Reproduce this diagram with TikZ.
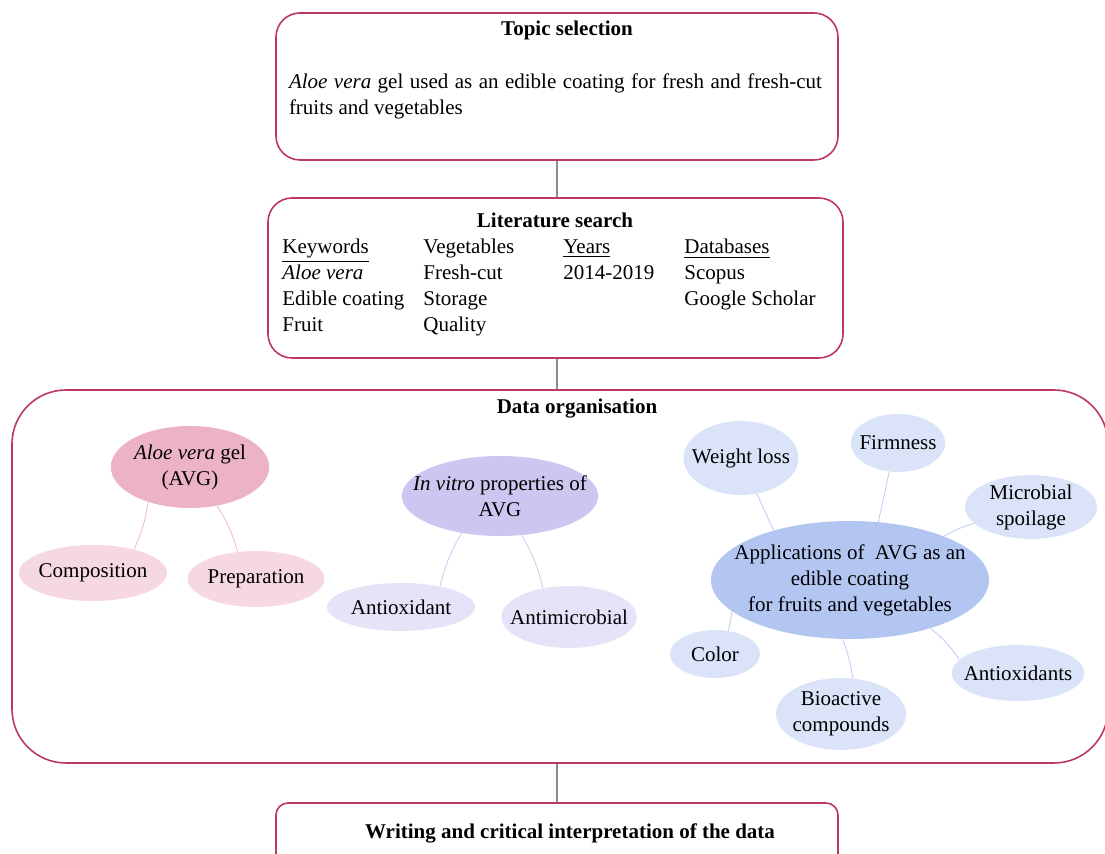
\documentclass[tikz,border=0pt]{standalone}
\usepackage{fontspec}
\setmainfont{Liberation Serif}
\usepackage{tikz}
\usetikzlibrary{shapes.geometric}
\definecolor{frame}{HTML}{BC3862}
\definecolor{stem}{HTML}{8C8C8C}
\definecolor{rosedark}{HTML}{ECB3C5}
\definecolor{roselight}{HTML}{F6D8E2}
\definecolor{roseline}{HTML}{EDB9C9}
\definecolor{lilacdark}{HTML}{CEC6F0}
\definecolor{lilaclight}{HTML}{E6E3F8}
\definecolor{lilacline}{HTML}{CFC8F0}
\definecolor{skydark}{HTML}{B3C6F2}
\definecolor{skylight}{HTML}{DAE3F8}
\definecolor{skyline}{HTML}{BCCBF1}

\begin{document}
\begin{tikzpicture}[x=0.5pt, y=-0.5pt,
  font=\fontsize{10.5}{13}\selectfont,
  stagebox/.style={draw=frame, line width=0.8pt, rounded corners=12pt},
  title/.style={font=\fontsize{10.5}{13}\selectfont\bfseries},
  bubble/.style={ellipse, inner sep=0pt, align=center},
  link/.style={line width=0.4pt}
]
  \useasboundingbox (0,0) rectangle (1105,854);
  \clip (0,0) rectangle (1105,854);

  % Stage boxes
  \node[stagebox, minimum width=281pt, minimum height=73.5pt] (topic) at (557,86.5) {};
  \node[stagebox, minimum width=287.5pt, minimum height=80pt] (lit) at (555.5,278) {};
  \node[stagebox, rounded corners=27pt, minimum width=548pt, minimum height=186.5pt] (data) at (560,576.5) {};
  \node[stagebox, rounded corners=6pt, minimum width=281pt, minimum height=40pt] (write) at (557,843) {};

  % Stems between the stages
  \draw[stem, line width=0.6pt] (topic.south) -- (topic.south |- lit.north);
  \draw[stem, line width=0.6pt] (lit.south -| topic.south) -- (topic.south |- data.north);
  \draw[stem, line width=0.6pt] (data.south -| topic.south) -- (topic.south |- write.north);

  % Topic selection
  \node[title] (topichead) at (567,30) {Topic selection};
  \node[text width=266.5pt, align=justify, inner sep=0pt] (topicbody) at (555.5,96)
    {\textit{Aloe vera} gel used as an edible coating for fresh and fresh-cut\linebreak
     fruits and vegetables};

  % Literature search
  \node[title] (lithead) at (555,220) {Literature search};
  \node[anchor=north west, align=left, inner sep=0pt] (colkey) at (282,239)
    {\underline{Keywords}\\\textit{Aloe vera}\\Edible coating\\Fruit};
  \node[anchor=north west, align=left, inner sep=0pt] (colveg) at (423,239)
    {Vegetables\\Fresh-cut\\Storage\\Quality};
  \node[anchor=north west, align=left, inner sep=0pt] (colyear) at (563,239)
    {\underline{Years}\\2014-2019};
  \node[anchor=north west, align=left, inner sep=0pt] (colbase) at (684,239)
    {\underline{Databases}\\Scopus\\Google Scholar};

  % Data organisation
  \node[title] (datahead) at (577,409) {Data organisation};

  % left cluster
  \node[bubble, fill=rosedark, minimum width=79pt, minimum height=41pt] (avg) at (190,467)
    {\textit{Aloe vera} gel\\(AVG)};
  \node[bubble, fill=roselight, inner xsep=-1pt, minimum width=74pt, minimum height=28pt] (comp) at (93,573) {Composition};
  \node[bubble, fill=roselight, minimum width=67pt, minimum height=28pt] (prep) at (256,579) {Preparation};
  \draw[link, roseline] (avg.220) to[bend left=8] (comp.30);
  \draw[link, roseline] (avg.305) to[bend left=8] (prep.124);

  % middle cluster
  \node[bubble, fill=lilacdark, inner xsep=-8.7pt, minimum width=97pt, minimum height=40pt] (vitro) at (500,496)
    {\textit{In vitro} properties of\\AVG};
  \node[bubble, fill=lilaclight, minimum width=74pt, minimum height=24pt] (antiox) at (401,607) {Antioxidant};
  \node[bubble, fill=lilaclight, inner xsep=-5.5pt, minimum width=67pt, minimum height=31pt] (antimic) at (569,617) {Antimicrobial};
  \draw[link, lilacline] (vitro.224) to[bend right=8] (antiox.28);
  \draw[link, lilacline] (vitro.299) to[bend left=8] (antimic.132);

  % right cluster
  \node[bubble, fill=skydark, inner xsep=-9pt, minimum width=139pt, minimum height=59pt] (apps) at (850,580)
    {Applications of~ AVG as an\\edible coating\\for fruits and vegetables};
  \node[bubble, fill=skylight, inner xsep=-4.2pt, minimum width=56pt, minimum height=37pt] (weight) at (741,458) {Weight loss};
  \node[bubble, fill=skylight, inner xsep=-2.6pt, minimum width=45pt, minimum height=29pt] (firm) at (898,443) {Firmness};
  \node[bubble, fill=skylight, minimum width=66pt, minimum height=28pt] (spoil) at (1031,507) {Microbial\\spoilage};
  \node[bubble, fill=skylight, minimum width=45pt, minimum height=24pt] (color) at (715,654) {Color};
  \node[bubble, fill=skylight, inner xsep=-1.5pt, minimum width=65pt, minimum height=36pt] (bio) at (841,714) {Bioactive\\compounds};
  \node[bubble, fill=skylight, inner xsep=-3.7pt, minimum width=66pt, minimum height=28pt] (antioxs) at (1018,673) {Antioxidants};
  \draw[link, skyline] (apps.147) -- (weight.294);
  \draw[link, skyline] (apps.64) -- (firm.253);
  \draw[link, skyline] (apps.25) to[bend left=6] (spoil.196);
  \draw[link, skyline] (apps.195) -- (color.60);
  \draw[link, skyline] (apps.263) to[bend left=6] (bio.72);
  \draw[link, skyline] (apps.329) to[bend left=8] (antioxs.167);

  % Writing
  \node[title] (writehead) at (570,833) {Writing and critical interpretation of the data};
\end{tikzpicture}
\end{document}
